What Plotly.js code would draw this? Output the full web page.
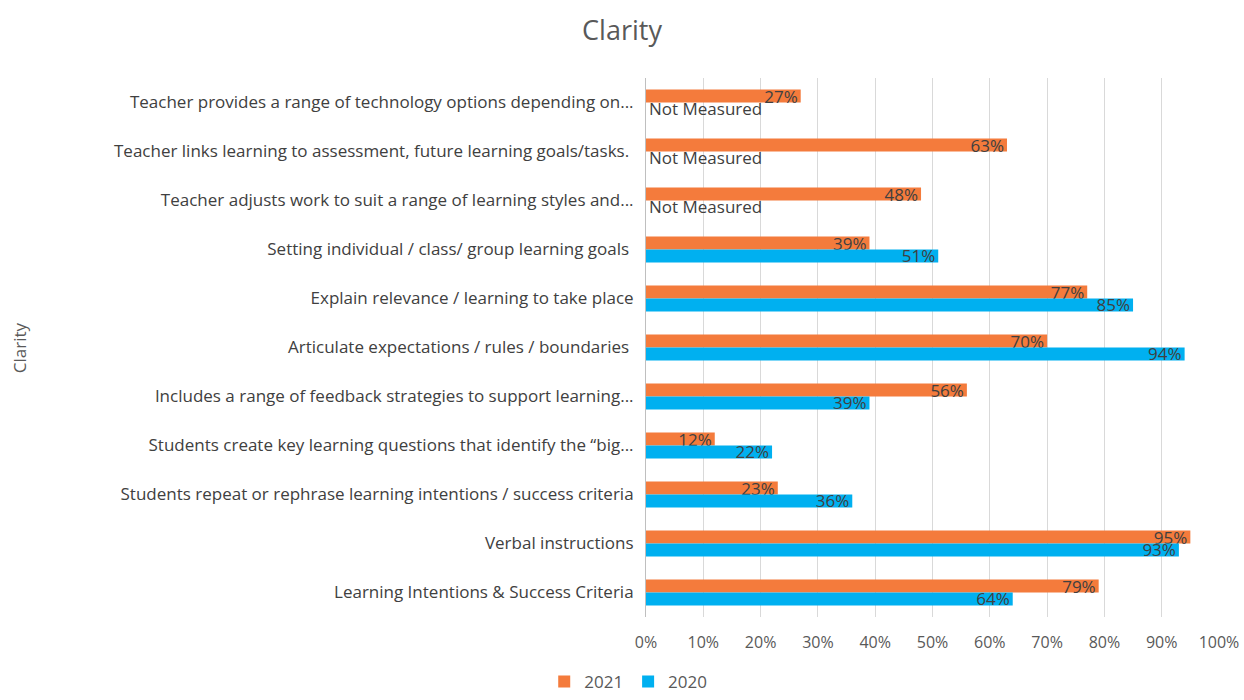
<!DOCTYPE html>
<html>
<head>
<meta charset="utf-8">
<script src="https://cdn.plot.ly/plotly-3.0.1.min.js"></script>
<style>html,body{margin:0;padding:0;background:#fff;}#chart{width:1244px;height:700px;}</style>
</head>
<body>
<div id="chart"></div>
<script>
const categories = [
  "Teacher provides a range of technology options depending on...",
  "Teacher links learning to assessment, future learning goals/tasks. ",
  "Teacher adjusts work to suit a range of learning styles and...",
  "Setting individual / class/ group learning goals ",
  "Explain relevance / learning to take place",
  "Articulate expectations / rules / boundaries ",
  "Includes a range of feedback strategies to support learning...",
  "Students create key learning questions that identify the “big...",
  "Students repeat or rephrase learning intentions / success criteria",
  "Verbal instructions",
  "Learning Intentions & Success Criteria"
];
const values2021 = [27, 63, 48, 39, 77, 70, 56, 12, 23, 95, 79];
const values2020 = [null, null, null, 51, 85, 94, 39, 22, 36, 93, 64];
const missingLabel = "Not Measured";
const xTickVals = [0,10,20,30,40,50,60,70,80,90,100];

const fontFam = "'Open Sans', Lato, sans-serif";
const labelColor = "#404040";

const t2021 = {
  type: 'bar', orientation: 'h', name: '2021',
  y: categories, x: values2021,
  marker: {color: '#F47B3C'},
  text: values2021.map(v => v + '%'),
  textposition: 'inside', insidetextanchor: 'end',
  constraintext: 'none',
  textfont: {family: fontFam, size: 17, color: labelColor},
  hoverinfo: 'x+y'
};
const t2020 = {
  type: 'bar', orientation: 'h', name: '2020',
  y: categories, x: values2020.map(v => v == null ? 0 : v),
  marker: {color: '#00B0F0'},
  text: values2020.map(v => v == null ? missingLabel : v + '%'),
  textposition: values2020.map(v => v == null ? 'outside' : 'inside'),
  insidetextanchor: 'end',
  constraintext: 'none',
  cliponaxis: false,
  textfont: {family: fontFam, size: 17, color: labelColor},
  hoverinfo: 'x+y'
};

const layout = {
  width: 1244, height: 700,
  paper_bgcolor: '#fff', plot_bgcolor: '#fff',
  font: {family: fontFam, color: '#595959', size: 17},
  title: {text: 'Clarity', x: 0.5, xref: 'container', y: 0.957, yanchor: 'middle', font: {size: 27, color: '#595959', family: fontFam}},
  margin: {l: 646, r: 25, t: 78, b: 83},
  barmode: 'group', bargap: 0.47, bargroupgap: 0,
  xaxis: {
    range: [0, 100], tickvals: xTickVals, ticktext: xTickVals.map(v => v + '%'),
    showgrid: true, gridcolor: '#D9D9D9', gridwidth: 1,
    zeroline: false, showline: false, ticks: '',
    ticklabelstandoff: 14,
    tickfont: {size: 16, color: '#595959'}
  },
  yaxis: {
    autorange: 'reversed', type: 'category',
    showline: true, linecolor: '#BFBFBF', linewidth: 1,
    ticks: '', ticklen: 0, ticklabelstandoff: 8,
    tickfont: {size: 17, color: '#404040'}
  },
  annotations: [{
    text: 'Clarity', xref: 'paper', yref: 'paper', x: -1.093, y: 0.5,
    xanchor: 'center', yanchor: 'middle', textangle: -90, showarrow: false,
    font: {size: 17, color: '#595959', family: fontFam}
  }],
  showlegend: true,
  legend: {orientation: 'h', x: 0.505, xref: 'container', xanchor: 'center', y: 0.0, yref: 'container', yanchor: 'bottom',
           font: {size: 17, color: '#595959'}, itemwidth: 30, tracegroupgap: 0}
};

Plotly.newPlot('chart', [t2021, t2020], layout, {displayModeBar: false, staticPlot: true});
</script>
</body>
</html>
